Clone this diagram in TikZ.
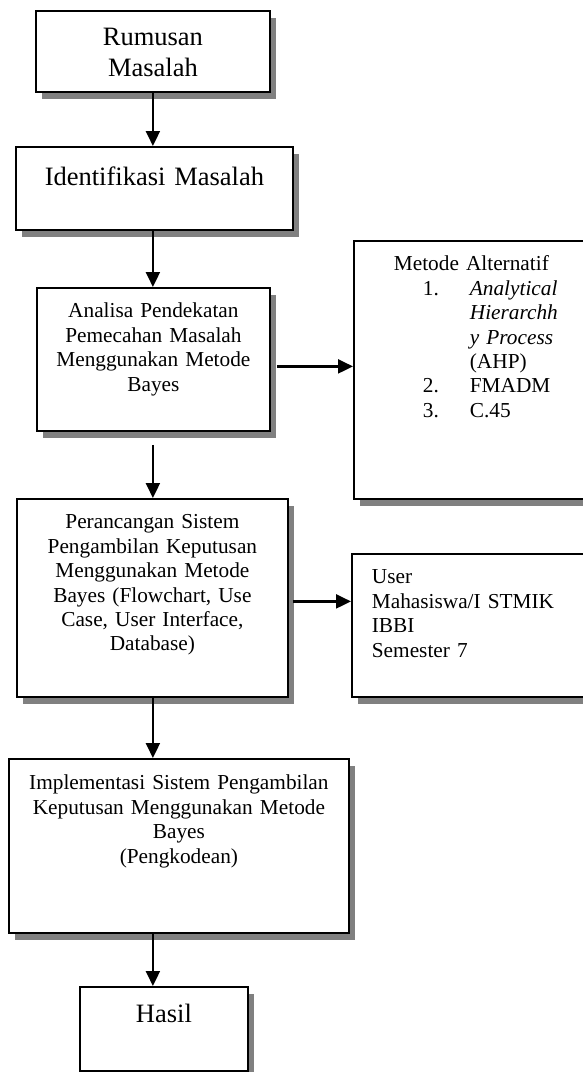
\documentclass[tikz,border=0pt]{standalone}
\usepackage{fontspec}
\setmainfont{Liberation Serif}
\usetikzlibrary{arrows.meta,shadows}

\begin{document}
\begin{tikzpicture}[x=1pt,y=-1pt,
    box/.style = {draw, line width=1.8pt, fill=white, inner sep=0pt, anchor=north west,
      drop shadow={shadow xshift=6pt, shadow yshift=-7pt, fill=black!50, opacity=1}},
    big/.style = {font=\fontsize{26.5}{31}\selectfont, align=center},
    small/.style = {font=\fontsize{21.3}{24.4}\selectfont, align=center},
    arr/.style = {line width=2.2pt, -{Triangle[length=15pt,width=14pt]}}]
  \useasboundingbox (0,0) rectangle (583,1072);

  \node[box, big, text width=234pt, text height=35pt, text depth=46pt] (rumusan) at (35,10) {Rumusan\\Masalah};
  \node[box, big, text width=277pt, text height=39pt, text depth=44pt] (identifikasi) at (15,146) {Identifikasi Masalah};
  \node[box, small, text width=233pt, text height=30pt, text depth=113pt] (analisa) at (36,287)
    {Analisa Pendekatan\\Pemecahan Masalah\\Menggunakan Metode\\Bayes};
  \node[box, small, align=left, inner xsep=40pt, text width=167pt, text height=30pt, text depth=228pt] (metode) at (353,240)
    {Metode Alternatif\\
     \hspace*{29pt}\makebox[47pt][l]{1.}\textit{Analytical}\\
     \hspace*{76pt}\textit{Hierarchh}\\
     \hspace*{76pt}\textit{y Process}\\
     \hspace*{76pt}(AHP)\\
     \hspace*{29pt}\makebox[47pt][l]{2.}FMADM\\
     \hspace*{29pt}\makebox[47pt][l]{3.}C.45};
  \node[box, small, text width=271pt, text height=30pt, text depth=168pt] (perancangan) at (16,498)
    {Perancangan Sistem\\Pengambilan Keputusan\\Menggunakan Metode\\Bayes (Flowchart, Use\\Case, User Interface,\\Database)};
  \node[box, small, align=left, inner xsep=20pt, text width=212pt, text height=30pt, text depth=113pt] (user) at (351,553)
    {User\\Mahasiswa/I STMIK\\IBBI\\Semester 7};
  \node[box, small, text width=340pt, text height=31pt, text depth=143pt] (implementasi) at (8,758)
    {Implementasi Sistem Pengambilan\\Keputusan Menggunakan Metode\\Bayes\\(Pengkodean)};
  \node[box, big, text width=168pt, text height=36pt, text depth=48pt] (hasil) at (79,986) {Hasil};

  \draw[arr] (rumusan.south) -- (rumusan.south |- identifikasi.north);
  \draw[arr] (rumusan.south |- identifikasi.south) -- (rumusan.south |- analisa.north);
  \draw[arr, shorten <=13pt] (rumusan.south |- analisa.south) -- (rumusan.south |- perancangan.north);
  \draw[arr] (rumusan.south |- perancangan.south) -- (rumusan.south |- implementasi.north);
  \draw[arr] (rumusan.south |- implementasi.south) -- (rumusan.south |- hasil.north);
  \draw[arr, shorten <=6pt] ([yshift=-7pt]analisa.east) -- ([yshift=-7pt]analisa.east -| metode.west);
  \draw[arr, shorten <=4pt] ([yshift=-3.5pt]perancangan.east) -- ([yshift=-3.5pt]perancangan.east -| user.west);

\end{tikzpicture}
\end{document}
